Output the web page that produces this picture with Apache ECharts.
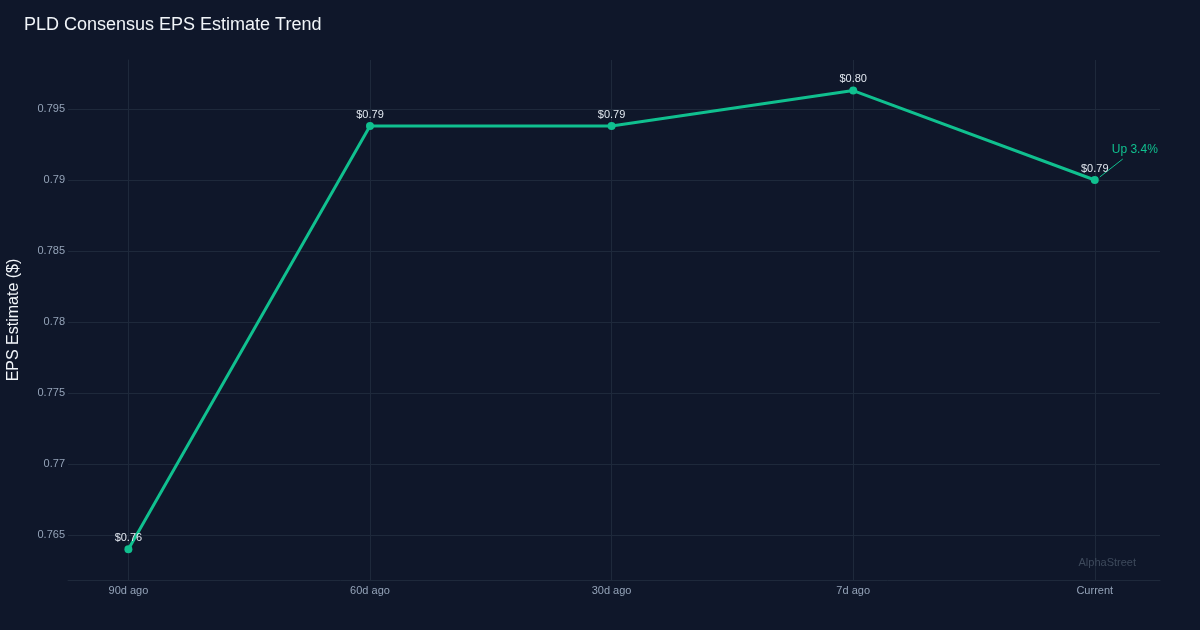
<!DOCTYPE html>
<html>
<head>
<meta charset="utf-8">
<script src="https://cdn.jsdelivr.net/npm/echarts@6/dist/echarts.min.js"></script>
<style>
html,body{margin:0;padding:0;background:#0f172a;}
#c{width:1200px;height:630px;}
</style>
</head>
<body>
<div id="c"></div>
<script>
const categories = ['90d ago', '60d ago', '30d ago', '7d ago', 'Current'];
const epsValues = [0.7640, 0.7938, 0.7938, 0.7963, 0.7900];
const yTicks = [0.765, 0.77, 0.775, 0.78, 0.785, 0.79, 0.795];
const changeLabel = 'Up 3.4%';
const titleText = 'PLD Consensus EPS Estimate Trend';
const yAxisName = 'EPS Estimate ($)';
const watermark = 'AlphaStreet';

const green = '#10c08f';
const gridColor = '#1e293b';
const font = 'Liberation Sans, Arial, sans-serif';
const xIdx = categories.map((c, i) => i);
const chart = echarts.init(document.getElementById('c'), null, {renderer: 'canvas'});
const seriesData = epsValues.map((v, i) => [i, v]);

chart.setOption({
  backgroundColor: '#0f172a',
  animation: false,
  title: {
    text: titleText, left: 19, top: 11,
    textStyle: {color: '#f1f5f9', fontSize: 18, fontWeight: 'normal', fontFamily: font}
  },
  grid: {left: 68, right: 40, top: 60, bottom: 50, containLabel: false, outerBoundsMode: 'none'},
  xAxis: {
    type: 'value', min: -0.25, max: 4.27,
    axisLine: {show: true, lineStyle: {color: gridColor}},
    axisTick: {show: false, customValues: xIdx},
    axisLabel: {
      color: '#94a3b8', fontSize: 11, margin: 5, fontFamily: font,
      customValues: xIdx,
      formatter: v => categories[Math.round(v)]
    },
    splitLine: {show: true, lineStyle: {color: gridColor, width: 1}}
  },
  yAxis: {
    type: 'value', min: 0.761831, max: 0.798451,
    name: yAxisName, nameLocation: 'middle', nameGap: 46, nameRotate: 90,
    nameTextStyle: {color: '#f1f5f9', fontSize: 16, fontFamily: font},
    axisLine: {show: true, lineStyle: {color: gridColor}},
    axisTick: {show: false, customValues: yTicks},
    axisLabel: {
      color: '#94a3b8', fontSize: 11, margin: 3, fontFamily: font,
      customValues: yTicks,
      formatter: v => String(+v.toFixed(3))
    },
    splitLine: {show: true, lineStyle: {color: gridColor, width: 1}}
  },
  series: [{
    type: 'line',
    data: seriesData,
    symbol: 'circle', symbolSize: 8,
    lineStyle: {color: green, width: 3},
    itemStyle: {color: green},
    label: {
      show: true, position: 'top', distance: 2,
      color: '#e2e8f0', fontSize: 11, fontFamily: font,
      formatter: p => '$' + p.value[1].toFixed(2)
    }
  }]
});

const last = epsValues.length - 1;
const pt = chart.convertToPixel({gridIndex: 0}, [last, epsValues[last]]);
chart.setOption({
  graphic: [
    {
      type: 'line', silent: true,
      shape: {x1: pt[0] + 5, y1: pt[1] - 3, x2: pt[0] + 28, y2: pt[1] - 21},
      style: {stroke: green, lineWidth: 1}
    },
    {
      type: 'text', silent: true,
      x: pt[0] + 17, y: pt[1] - 30,
      style: {text: changeLabel, fill: green, fontSize: 12, fontFamily: font, textVerticalAlign: 'middle'}
    },
    {
      type: 'text', silent: true,
      right: 64, bottom: 62,
      style: {text: watermark, fill: '#3e4a5c', fontSize: 11, fontFamily: font}
    }
  ]
});
</script>
</body>
</html>
